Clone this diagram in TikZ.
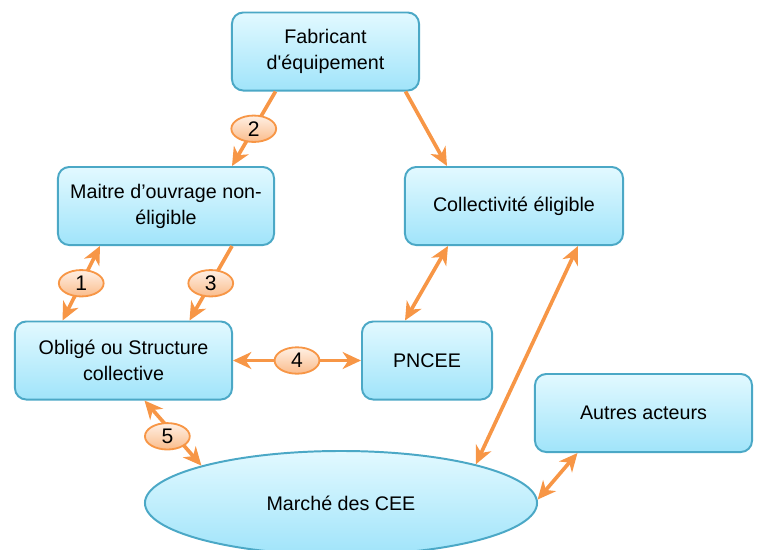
\documentclass[tikz,border=0pt]{standalone}
\usepackage{fontspec}
\setmainfont{Liberation Sans}
\usetikzlibrary{arrows.meta,shapes.geometric,calc}
\definecolor{boxrule}{RGB}{75,168,198}
\definecolor{boxtop}{RGB}{226,249,255}
\definecolor{boxbot}{RGB}{160,228,250}
\definecolor{arrorange}{RGB}{247,150,70}
\definecolor{numtop}{RGB}{255,240,228}
\definecolor{numbot}{RGB}{250,188,140}
\tikzset{
  actor/.style={rectangle,rounded corners=8pt,draw=boxrule,line width=1.4pt,top color=boxtop,bottom color=boxbot,align=center,minimum height=1.95cm,inner sep=2pt,font=\fontsize{14}{18.5}\selectfont},
  market/.style={ellipse,draw=boxrule,line width=1.4pt,top color=boxtop,bottom color=boxbot,minimum width=9.8cm,minimum height=2.6cm,font=\fontsize{14}{18.5}\selectfont},
  num/.style={ellipse,draw=arrorange,line width=1.3pt,top color=numtop,bottom color=numbot,minimum width=1.12cm,minimum height=0.66cm,inner sep=0pt,font=\fontsize{15}{16}\selectfont},
  flux/.style={-{Stealth[length=13pt,width=12pt,inset=4pt]},draw=arrorange,line width=2.6pt},
  biflux/.style={{Stealth[length=13pt,width=12pt,inset=4pt]}-{Stealth[length=13pt,width=12pt,inset=4pt]},draw=arrorange,line width=2.6pt}
}
\begin{document}
\begin{tikzpicture}[x=0.025cm,y=-0.025cm]
  \useasboundingbox (0,0) rectangle (759,549);
  \clip (0,0) rectangle (759,549);
  % acteurs
  \node[actor,minimum width=4.675cm] (fab) at (325.5,51.5) {Fabricant\\d\textquotesingle équipement};
  \node[actor,minimum width=5.4cm] (mo) at (166,206) {Maitre d'ouvrage non-\\éligible};
  \node[actor,minimum width=5.45cm] (coll) at (514,206) {Collectivité éligible};
  \node[actor,minimum width=5.425cm] (obl) at (123.5,360.5) {Obligé ou Structure\\collective};
  \node[actor,minimum width=3.25cm] (pncee) at (427,360.5) {PNCEE};
  \node[actor,minimum width=5.425cm] (autres) at (643.5,413) {Autres acteurs};
  \node[market] (mkt) at (341,503) {Marché des CEE};
  % flux
  \draw[flux] ($(fab.south)+(-50,0)$) -- node[num]{2} ($(mo.north)+(66,0)$);
  \draw[flux] ($(fab.south)+(80,0)$) -- ($(coll.north)+(-67,0)$);
  \draw[biflux] ($(mo.south)+(-66,0)$) -- node[num]{1} ($(obl.north)+(-61,0)$);
  \draw[flux] ($(mo.south)+(66,0)$) -- node[num]{3} ($(obl.north)+(66,0)$);
  \draw[biflux] ($(coll.south)+(-66,0)$) -- ($(pncee.north)+(-22,0)$);
  \draw[biflux] ($(coll.south)+(64,0)$) -- (mkt.16);
  \draw[biflux] (obl.east) -- node[num]{4} (pncee.west);
  \draw[biflux] ($(obl.south)+(21,0)$) -- node[num,pos=0.55,xshift=-6pt]{5} (mkt.165);
  \draw[biflux] ($(autres.south)+(-66,0)$) -- (mkt.1);
\end{tikzpicture}
\end{document}
